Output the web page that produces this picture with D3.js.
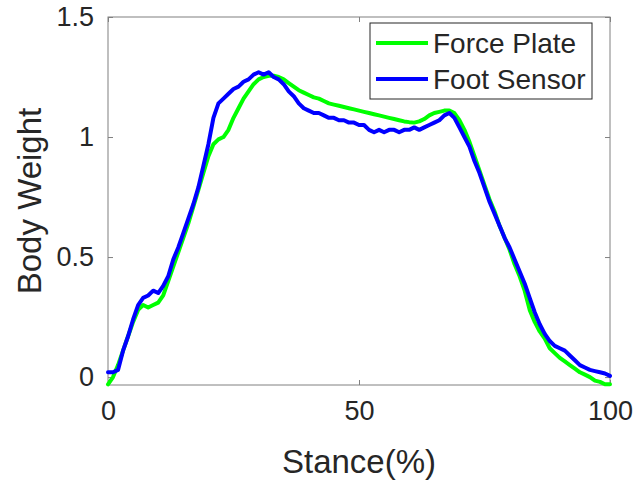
<!DOCTYPE html>
<html lang="en">
<head>
  <meta charset="UTF-8">
  <title>Body Weight vs Stance</title>
  <script src="https://cdn.jsdelivr.net/npm/d3@7"></script>
  <style>
    body { margin: 0; background: #fff; }
    svg text { font-family: "Liberation Sans", Arial, sans-serif; fill: #262626; }
  </style>
</head>
<body>
<svg id="chart"></svg>
<script>
  const width = 637, height = 482;

  // stance percentage, 0..100 in 1% steps
  const stance = d3.range(0, 101);

  // Force Plate (green), body weight
  const forcePlate = [
    -0.03, 0.00, 0.05, 0.11, 0.17, 0.23, 0.28, 0.30, 0.29, 0.30,
    0.31, 0.34, 0.40, 0.46, 0.52, 0.58, 0.64, 0.71, 0.78, 0.85,
    0.92, 0.97, 0.99, 1.00, 1.03, 1.08, 1.12, 1.16, 1.19, 1.22,
    1.24, 1.25, 1.255, 1.255, 1.25, 1.24, 1.225, 1.21, 1.195, 1.185,
    1.175, 1.165, 1.16, 1.15, 1.14, 1.135, 1.13, 1.125, 1.12, 1.115,
    1.11, 1.105, 1.10, 1.095, 1.09, 1.085, 1.08, 1.075, 1.07, 1.065,
    1.062, 1.06, 1.065, 1.075, 1.09, 1.10, 1.105, 1.11, 1.11, 1.10,
    1.07, 1.03, 0.98, 0.92, 0.86, 0.80, 0.74, 0.69, 0.63, 0.58,
    0.53, 0.47, 0.42, 0.36, 0.28, 0.23, 0.19, 0.16, 0.12, 0.10,
    0.08, 0.065, 0.05, 0.035, 0.02, 0.01, 0.00, -0.015, -0.02, -0.03,
    -0.03
  ];

  // Foot Sensor (blue), body weight
  const footSensor = [
    0.02, 0.02, 0.03, 0.11, 0.17, 0.24, 0.30, 0.33, 0.34, 0.36,
    0.35, 0.38, 0.42, 0.49, 0.54, 0.60, 0.66, 0.72, 0.79, 0.88,
    0.97, 1.08, 1.14, 1.16, 1.18, 1.20, 1.21, 1.23, 1.24, 1.26,
    1.27, 1.26, 1.27, 1.25, 1.24, 1.22, 1.19, 1.17, 1.14, 1.12,
    1.11, 1.10, 1.10, 1.09, 1.08, 1.08, 1.07, 1.07, 1.06, 1.06,
    1.05, 1.05, 1.03, 1.02, 1.03, 1.02, 1.03, 1.03, 1.02, 1.03,
    1.03, 1.04, 1.03, 1.04, 1.05, 1.06, 1.07, 1.09, 1.10, 1.08,
    1.04, 1.00, 0.96, 0.90, 0.85, 0.79, 0.73, 0.68, 0.63, 0.58,
    0.54, 0.49, 0.44, 0.39, 0.33, 0.27, 0.22, 0.18, 0.15, 0.13,
    0.12, 0.11, 0.09, 0.07, 0.05, 0.04, 0.03, 0.025, 0.02, 0.015,
    0.005
  ];

  const xTicks = [0, 50, 100];
  const yTicks = [0, 0.5, 1, 1.5];

  const series = [
    {name: 'Force Plate', color: '#00ff00', values: forcePlate},
    {name: 'Foot Sensor', color: '#0000ff', values: footSensor}
  ];

  const margin = {left: 108, right: 27, top: 17, bottom: 97};

  const svg = d3.select('#chart')
    .attr('width', width)
    .attr('height', height);

  const x = d3.scaleLinear()
    .domain([0, 100])
    .range([margin.left, width - margin.right]);

  const y = d3.scaleLinear()
    .domain([-0.033, 1.5])
    .range([height - margin.bottom, margin.top]);

  const axisColor = '#808080';
  const tickLen = 5;

  // box
  svg.append('rect')
    .attr('x', x(0)).attr('y', y(1.5))
    .attr('width', x(100) - x(0))
    .attr('height', y(-0.033) - y(1.5))
    .attr('fill', 'none')
    .attr('stroke', axisColor)
    .attr('stroke-width', 1);

  // axes with inward ticks
  const xAxis = d3.axisBottom(x).tickValues(xTicks).tickSize(-tickLen).tickPadding(16).tickFormat(d3.format('d'));
  const yAxis = d3.axisLeft(y).tickValues(yTicks).tickSize(-tickLen).tickPadding(14).tickFormat(d => d === 0 ? '0' : String(d));

  const gx = svg.append('g')
    .attr('transform', `translate(0,${y(-0.033)})`)
    .call(xAxis);
  const gy = svg.append('g')
    .attr('transform', `translate(${x(0)},0)`)
    .call(yAxis);

  [gx, gy].forEach(g => {
    g.select('.domain').remove();
    g.selectAll('.tick line').attr('stroke', axisColor);
    g.selectAll('.tick text')
      .style('font-size', '27px')
      .style('font-family', '"Liberation Sans", Arial, sans-serif')
      .attr('fill', '#262626');
  });
  gx.selectAll('.tick text').attr('dy', '0.71em');

  // mirrored ticks on top and right
  svg.append('g')
    .attr('transform', `translate(0,${y(1.5)})`)
    .call(d3.axisTop(x).tickValues(xTicks).tickSize(-tickLen).tickFormat(''))
    .call(g => g.select('.domain').remove())
    .call(g => g.selectAll('.tick line').attr('stroke', axisColor));
  svg.append('g')
    .attr('transform', `translate(${x(100)},0)`)
    .call(d3.axisRight(y).tickValues(yTicks).tickSize(-tickLen).tickFormat(''))
    .call(g => g.select('.domain').remove())
    .call(g => g.selectAll('.tick line').attr('stroke', axisColor));

  // lines
  const line = d3.line()
    .x((d, i) => x(stance[i]))
    .y(d => y(d));

  svg.append('g')
    .selectAll('path')
    .data(series)
    .join('path')
    .attr('d', d => line(d.values))
    .attr('fill', 'none')
    .attr('stroke', d => d.color)
    .attr('stroke-width', 4)
    .attr('stroke-linejoin', 'round')
    .attr('stroke-linecap', 'round');

  // axis labels
  svg.append('text')
    .attr('x', (x(0) + x(100)) / 2)
    .attr('y', 473)
    .attr('text-anchor', 'middle')
    .style('font-size', '33px')
    .text('Stance(%)');

  svg.append('text')
    .attr('transform', `translate(41,${(y(-0.033) + y(1.5)) / 2}) rotate(-90)`)
    .attr('text-anchor', 'middle')
    .style('font-size', '33px')
    .text('Body Weight');

  // legend
  const legend = svg.append('g');
  legend.append('rect')
    .attr('x', 370).attr('y', 23)
    .attr('width', 222).attr('height', 76)
    .attr('fill', '#fff')
    .attr('stroke', '#262626')
    .attr('stroke-width', 1);

  const item = legend.selectAll('g.item')
    .data(series)
    .join('g')
    .attr('class', 'item')
    .attr('transform', (d, i) => `translate(0,${43 + i * 36})`);
  item.append('line')
    .attr('x1', 376).attr('x2', 428)
    .attr('stroke', d => d.color)
    .attr('stroke-width', 4);
  item.append('text')
    .attr('x', 433)
    .attr('dy', '0.36em')
    .style('font-size', '28px')
    .text(d => d.name);
</script>
</body>
</html>
